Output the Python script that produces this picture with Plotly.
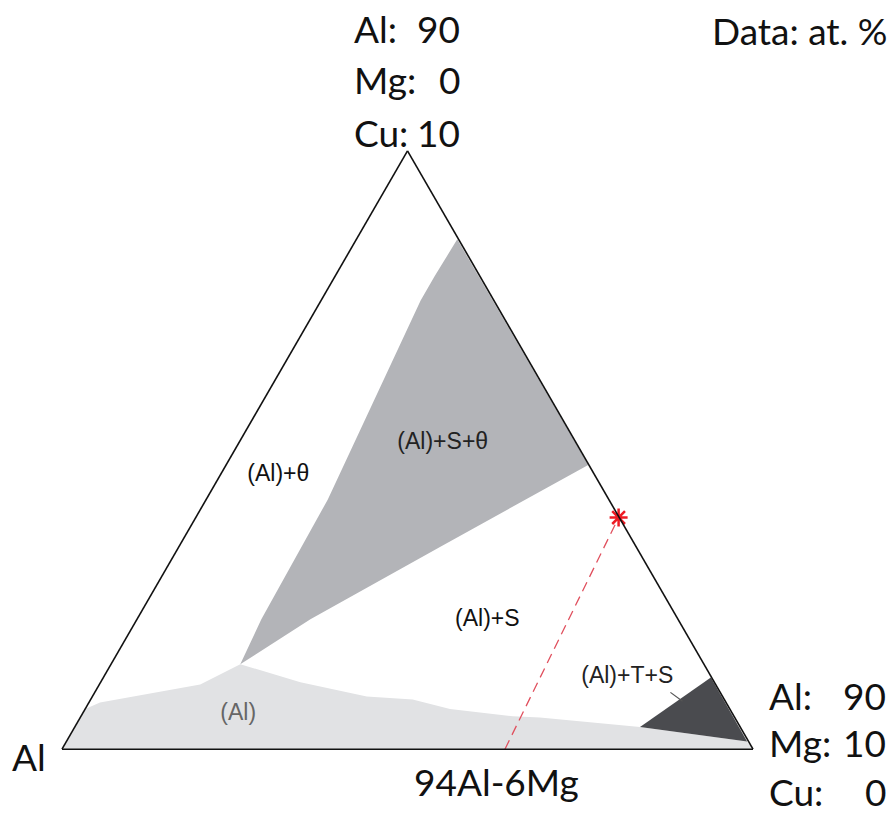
import plotly.graph_objects as go

# ---- Data (at.%): Cu and Mg; Al = 100 - Cu - Mg ----
# (Al) single-phase field
al_field_cu = [0.0, 0.67, 0.78, 1.08, 1.42, 1.12, 0.88, 0.83, 0.67, 0.55, 0.53, 0.37, 0.13, 0.0]
al_field_mg = [0.0, 0.00, 0.16, 1.46, 1.87, 2.89, 3.97, 4.66, 5.28, 6.25, 6.65, 8.18, 9.85, 10.0]

# (Al)+S+theta three-phase field
sth_cu = [1.42, 2.17, 4.17, 7.50, 7.90, 8.52, 4.75, 3.38, 2.17]
sth_mg = [1.87, 1.80, 1.76, 1.44, 1.44, 1.46, 5.24, 3.78, 2.51]

# (Al)+T+S three-phase field
ts_cu = [0.37, 1.20, 0.13]
ts_mg = [8.18, 8.79, 9.85]

# red dashed section line 94Al-6Mg -> star
sec_cu = [0.0, 3.87]
sec_mg = [6.41, 6.12]
star_cu = [3.87]
star_mg = [6.12]

# leader line for (Al)+T+S label
lead_cu = [0.95, 0.80]
lead_mg = [8.33, 8.58]

# phase-field labels
lab_text = ["(Al)+θ", "(Al)+S+θ", "(Al)+S", "(Al)+T+S", "(Al)"]
lab_cu = [4.58, 5.12, 2.15, 1.20, 0.58]
lab_mg = [0.84, 2.95, 5.08, 7.58, 2.26]
lab_col = ["#111111", "#222222", "#111111", "#222222", "#666666"]


def al(cu, mg):
    return [round(100 - c - m, 4) for c, m in zip(cu, mg)]


fig = go.Figure()

def region(cu, mg, color):
    fig.add_trace(go.Scatterternary(
        a=cu, b=al(cu, mg), c=mg, mode="lines", fill="toself",
        fillcolor=color, line=dict(width=0, color=color),
        hoverinfo="skip", showlegend=False))

region(al_field_cu, al_field_mg, "#e1e2e4")
region(sth_cu, sth_mg, "#b3b4b8")
region(ts_cu, ts_mg, "#4a4b4f")

fig.add_trace(go.Scatterternary(
    a=sec_cu, b=al(sec_cu, sec_mg), c=sec_mg, mode="lines",
    line=dict(color="#e0505e", width=1.3, dash="10px,6px"),
    hoverinfo="skip", showlegend=False))

fig.add_trace(go.Scatterternary(
    a=lead_cu, b=al(lead_cu, lead_mg), c=lead_mg, mode="lines",
    line=dict(color="#555555", width=1.2),
    hoverinfo="skip", showlegend=False))

fig.add_trace(go.Scatterternary(
    a=star_cu, b=al(star_cu, star_mg), c=star_mg, mode="markers",
    cliponaxis=False,
    marker=dict(symbol="asterisk-open", size=15, color="#ee1c24",
                line=dict(color="#ee1c24", width=2.5)),
    hoverinfo="skip", showlegend=False))

fig.add_trace(go.Scatterternary(
    a=lab_cu, b=al(lab_cu, lab_mg), c=lab_mg, mode="text",
    text=lab_text, textposition="middle center",
    textfont=dict(family="Liberation Sans, Arial, sans-serif", size=23, color=lab_col),
    hoverinfo="skip", showlegend=False))

W, H = 893, 817
axis_common = dict(showgrid=False, showticklabels=False, ticks="", linecolor="#111111",
                   linewidth=1.6, title=dict(text=""), showline=True)

fig.update_layout(
    width=W, height=H,
    margin=dict(l=0, r=0, t=0, b=0),
    paper_bgcolor="white",
    ternary=dict(
        sum=100,
        domain=dict(x=[62 / W, 753 / W], y=[(H - 750) / H, (H - 150) / H]),
        bgcolor="white",
        aaxis=dict(min=0, **axis_common),
        baxis=dict(min=90, **axis_common),
        caxis=dict(min=0, **axis_common),
    ),
    hovermode=False,
)

big = dict(family="Lato, Open Sans, sans-serif", size=37, color="#111111")

def px_ann(text, x, y, xanchor):
    fig.add_annotation(text=text, x=x / W, y=(H - y) / H, xref="paper", yref="paper",
                       xanchor=xanchor, yanchor="middle", showarrow=False, font=big)

# top vertex composition
for (lab, num, y) in [("Al:", "90", 28), ("Mg:", "0", 80), ("Cu:", "10", 133)]:
    px_ann(lab, 352, y, "left")
    px_ann(num, 462, y, "right")

# right vertex composition
for (lab, num, y) in [("Al:", "90", 695), ("Mg:", "10", 742), ("Cu:", "0", 791)]:
    px_ann(lab, 767, y, "left")
    px_ann(num, 888, y, "right")

px_ann("Al", 10, 756, "left")
px_ann("94Al-6Mg", 496, 781, "center")
px_ann("Data: at. %", 889, 30, "right")

fig.write_html("out.html", config={"displayModeBar": False},
               post_script="document.body.style.margin='0';document.body.style.overflow='hidden';")
